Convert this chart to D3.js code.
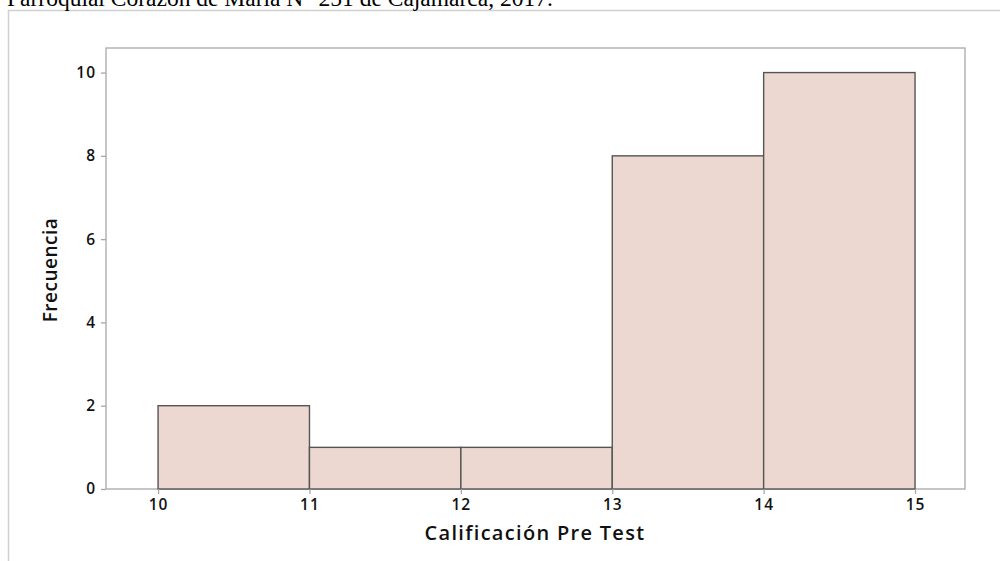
<!DOCTYPE html>
<html><head><meta charset="utf-8">
<script src="https://cdn.jsdelivr.net/npm/d3@7"></script>
<style>body{margin:0;background:#fff}svg{display:block}</style>
</head><body>
<svg id="c" width="1000" height="561"></svg>
<script>
const binStarts = [10, 11, 12, 13, 14];
const binEnds = [11, 12, 13, 14, 15];
const frequencies = [2, 1, 1, 8, 10];
const xTicks = [10, 11, 12, 13, 14, 15];
const yTicks = [0, 2, 4, 6, 8, 10];
const titleText = "Parroquial Corazón de María N° 251 de Cajamarca, 2017.";
const xLabel = "Calificación Pre Test";
const yLabel = "Frecuencia";

const svg = d3.select("#c");
const L = 106, R = 965, T = 48, B = 489;
const x = d3.scaleLinear().domain([9.656, 15.33]).range([L, R]);
const y = d3.scaleLinear().domain([0, 10.59]).range([B, T]);

// outer frame
svg.append("line").attr("x1", 8.5).attr("x2", 8.5).attr("y1", 10).attr("y2", 561).attr("stroke", "#d0d0d0").attr("stroke-width", 1.5);
svg.append("line").attr("x1", 8).attr("x2", 1000).attr("y1", 10.5).attr("y2", 10.5).attr("stroke", "#d0d0d0").attr("stroke-width", 1.5);

svg.append("text").attr("x", 7).attr("y", 6).attr("font-family", "Liberation Serif").attr("font-size", 23.5).attr("fill", "#000").text(titleText);

// plot frame
svg.append("rect").attr("x", L).attr("y", T).attr("width", R - L).attr("height", B - T).attr("fill", "none").attr("stroke", "#a8a8a8").attr("stroke-width", 1.3);

// bars
svg.selectAll("rect.bar").data(frequencies).enter().append("rect").attr("class", "bar")
  .attr("x", (d, i) => x(binStarts[i]))
  .attr("width", (d, i) => x(binEnds[i]) - x(binStarts[i]))
  .attr("y", d => y(d))
  .attr("height", d => y(0) - y(d))
  .attr("fill", "#edd7d1").attr("stroke", "#555").attr("stroke-width", 1.4);

// axes
const xa = svg.append("g").attr("transform", `translate(0,${B})`)
  .call(d3.axisBottom(x).tickValues(xTicks).tickFormat(d3.format("d")).tickSize(5).tickPadding(5));
const ya = svg.append("g").attr("transform", `translate(${L},0)`)
  .call(d3.axisLeft(y).tickValues(yTicks).tickFormat(d3.format("d")).tickSize(5).tickPadding(5));
[xa, ya].forEach(g => {
  g.select(".domain").remove();
  g.selectAll("line").attr("stroke", "#a8a8a8").attr("stroke-width", 1.3);
  g.selectAll("text").attr("font-family", "Open Sans").attr("font-weight", 600).attr("font-size", 15.5).attr("letter-spacing", 1).attr("fill", "#111");
});

svg.append("text").attr("x", 535).attr("y", 540).attr("text-anchor", "middle")
  .attr("font-family", "Open Sans").attr("font-weight", 600).attr("font-size", 20).attr("letter-spacing", 1.3).attr("fill", "#111").text(xLabel);
svg.append("text").attr("transform", "translate(57,270) rotate(-90)").attr("text-anchor", "middle")
  .attr("font-family", "Open Sans").attr("font-weight", 600).attr("font-size", 19).attr("letter-spacing", 0.5).attr("fill", "#111").text(yLabel);
</script>
</body></html>
